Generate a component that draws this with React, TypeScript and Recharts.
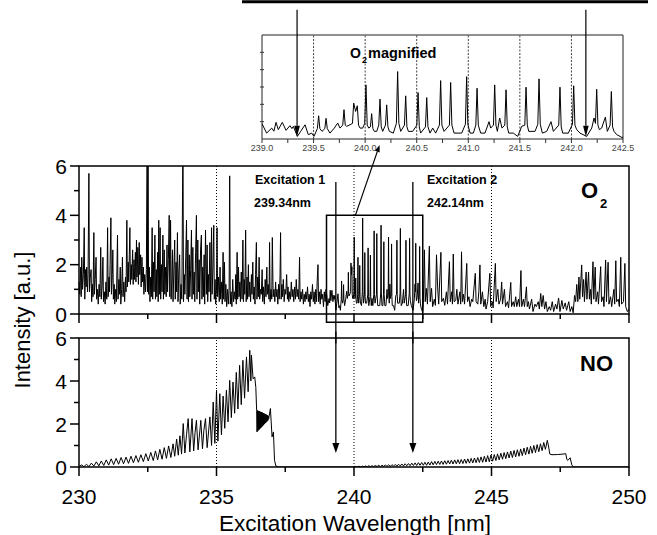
import React from 'react';
import { LineChart, Line, XAxis, YAxis, ReferenceLine, ReferenceArea } from 'recharts';

// O2 LIF excitation spectrum, 230-239 nm (wavelength nm, intensity a.u.)
const o2BandA: [number, number][] = [
  [230.00, 1.3], [230.03, 0.8], [230.06, 1.9], [230.08, 0.7], [230.10, 2.3], [230.13, 1.0], [230.16, 1.6], [230.19, 3.5],
  [230.21, 0.6], [230.24, 1.8], [230.26, 1.1], [230.28, 1.9], [230.31, 0.9], [230.33, 1.6], [230.36, 5.7], [230.38, 0.9],
  [230.41, 1.5], [230.44, 1.8], [230.46, 0.5], [230.49, 1.2], [230.51, 0.7], [230.54, 3.3], [230.56, 0.8], [230.59, 1.4],
  [230.62, 2.3], [230.64, 0.6], [230.67, 1.0], [230.70, 0.4], [230.73, 1.2], [230.76, 0.7], [230.79, 2.7], [230.81, 0.6],
  [230.84, 1.1], [230.87, 2.3], [230.89, 0.5], [230.92, 0.9], [230.95, 0.4], [230.98, 1.3], [231.01, 0.6], [231.04, 3.5],
  [231.06, 0.7], [231.09, 1.5], [231.11, 0.9], [231.13, 2.0], [231.16, 3.9], [231.18, 0.8], [231.21, 1.6], [231.23, 2.6],
  [231.25, 0.6], [231.28, 1.2], [231.30, 0.4], [231.33, 1.0], [231.36, 0.5], [231.40, 3.2], [231.42, 0.6], [231.45, 1.4],
  [231.47, 0.8], [231.50, 1.9], [231.52, 0.4], [231.55, 1.0], [231.58, 2.3], [231.60, 0.7], [231.63, 1.3], [231.66, 0.5],
  [231.69, 1.5], [231.71, 0.9], [231.74, 3.8], [231.76, 1.1], [231.79, 2.1], [231.81, 1.3], [231.83, 2.4], [231.85, 3.5],
  [231.87, 1.2], [231.90, 2.0], [231.92, 1.4], [231.95, 2.6], [231.97, 1.2], [232.00, 2.2], [232.02, 1.4], [232.05, 2.5],
  [232.07, 1.3], [232.09, 3.0], [232.11, 1.5], [232.14, 2.7], [232.16, 1.2], [232.19, 2.9], [232.21, 1.6], [232.24, 2.4],
  [232.26, 1.1], [232.29, 2.3], [232.31, 1.3], [232.34, 1.9], [232.36, 0.8], [232.39, 1.6], [232.42, 0.9], [232.45, 1.8],
  [232.48, 7.5], [232.49, 0.9], [232.51, 7.5], [232.53, 0.8], [232.56, 1.9], [232.58, 0.5], [232.61, 1.5], [232.63, 0.7],
  [232.66, 3.5], [232.68, 0.6], [232.71, 2.1], [232.73, 0.9], [232.76, 3.2], [232.78, 0.6], [232.81, 1.8], [232.83, 0.7],
  [232.86, 2.5], [232.88, 0.5], [232.90, 3.8], [232.92, 0.8], [232.95, 3.5], [232.97, 0.6], [233.00, 2.0], [233.02, 0.9],
  [233.05, 3.2], [233.07, 0.6], [233.10, 2.6], [233.12, 0.8], [233.15, 1.9], [233.17, 0.7], [233.20, 2.8], [233.22, 0.9],
  [233.25, 2.2], [233.28, 4.0], [233.30, 0.7], [233.33, 3.8], [233.35, 0.6], [233.38, 1.5], [233.40, 2.6], [233.42, 0.5],
  [233.45, 1.8], [233.48, 3.0], [233.50, 0.6], [233.53, 2.1], [233.55, 0.9], [233.58, 3.3], [233.60, 0.5], [233.63, 1.7],
  [233.66, 2.4], [233.68, 0.4], [233.71, 1.2], [233.74, 0.6], [233.78, 7.5], [233.80, 0.5], [233.83, 1.6], [233.85, 0.8],
  [233.88, 2.3], [233.91, 3.8], [233.93, 0.6], [233.96, 3.0], [233.98, 0.5], [234.01, 2.4], [234.03, 0.7], [234.06, 1.8],
  [234.09, 3.4], [234.11, 0.6], [234.14, 2.7], [234.16, 0.8], [234.19, 1.7], [234.21, 0.5], [234.24, 2.5], [234.27, 4.0],
  [234.29, 0.6], [234.32, 3.0], [234.34, 0.9], [234.37, 2.2], [234.39, 0.4], [234.42, 2.6], [234.45, 3.2], [234.47, 0.6],
  [234.50, 1.9], [234.52, 0.7], [234.55, 2.4], [234.57, 0.4], [234.60, 3.4], [234.63, 0.8], [234.66, 2.8], [234.68, 0.5],
  [234.71, 1.6], [234.73, 0.9], [234.76, 2.9], [234.79, 0.5], [234.82, 3.5], [234.84, 0.8], [234.87, 1.9], [234.90, 3.6],
  [234.92, 0.6], [234.95, 1.4], [234.97, 0.4],
];

const o2BandB: [number, number][] = [
  [235.00, 1.0], [235.02, 3.5], [235.04, 0.7], [235.07, 1.5], [235.10, 0.5], [235.13, 1.9], [235.15, 0.6], [235.18, 1.3],
  [235.21, 0.4], [235.24, 2.5], [235.26, 0.6], [235.29, 2.1], [235.31, 0.5], [235.34, 1.2], [235.37, 0.3], [235.40, 1.0],
  [235.43, 0.4], [235.46, 1.1], [235.48, 5.6], [235.50, 0.4], [235.53, 0.9], [235.56, 0.3], [235.59, 1.4], [235.62, 0.5],
  [235.65, 0.9], [235.68, 0.6], [235.70, 1.6], [235.72, 0.4], [235.75, 2.5], [235.77, 0.6], [235.80, 1.9], [235.82, 0.7],
  [235.85, 1.3], [235.87, 0.5], [235.90, 1.7], [235.93, 0.6], [235.96, 3.0], [235.98, 0.5], [236.01, 1.4], [236.03, 0.8],
  [236.06, 3.4], [236.08, 0.5], [236.11, 1.5], [236.13, 0.6], [236.16, 2.0], [236.18, 0.7], [236.21, 1.3], [236.24, 0.5],
  [236.27, 1.6], [236.29, 0.8], [236.32, 2.1], [236.34, 0.6], [236.37, 1.1], [236.40, 0.4], [236.42, 1.6], [236.45, 2.9],
  [236.47, 0.6], [236.50, 1.5], [236.52, 0.7], [236.55, 2.3], [236.57, 0.6], [236.60, 1.0], [236.63, 0.8], [236.66, 1.8],
  [236.68, 0.5], [236.71, 1.1], [236.74, 0.4], [236.77, 1.4], [236.80, 0.7], [236.83, 1.9], [236.85, 0.8], [236.88, 1.2],
  [236.91, 0.6], [236.93, 2.9], [236.95, 0.5], [236.98, 1.0], [237.01, 0.6], [237.03, 3.1], [237.06, 0.7], [237.09, 1.0],
  [237.12, 0.5], [237.15, 1.3], [237.17, 0.7], [237.20, 1.0], [237.23, 0.4], [237.26, 1.2], [237.28, 0.6], [237.31, 1.5],
  [237.33, 3.3], [237.35, 0.6], [237.38, 1.2], [237.40, 0.7], [237.43, 1.4], [237.46, 0.5], [237.49, 1.0], [237.52, 0.8],
  [237.55, 1.6], [237.58, 0.6], [237.60, 1.1], [237.63, 0.5], [237.66, 0.9], [237.69, 0.6], [237.72, 1.3], [237.75, 0.7],
  [237.78, 1.0], [237.81, 0.5], [237.84, 1.1], [237.87, 0.6], [237.90, 1.4], [237.93, 0.7], [237.96, 1.0], [237.99, 0.6],
  [238.02, 2.3], [238.04, 0.5], [238.07, 0.9], [238.10, 0.6], [238.13, 1.0], [238.16, 0.4], [238.19, 0.8], [238.22, 0.5],
  [238.25, 0.9], [238.28, 0.6], [238.31, 1.1], [238.34, 0.5], [238.37, 0.8], [238.40, 0.3], [238.43, 0.9], [238.46, 0.6],
  [238.49, 1.2], [238.52, 0.5], [238.55, 0.9], [238.58, 0.4], [238.61, 1.0], [238.64, 0.5], [238.66, 1.3], [238.69, 2.0],
  [238.71, 0.5], [238.74, 0.9], [238.77, 0.4], [238.80, 1.0], [238.83, 0.6], [238.86, 0.8], [238.89, 0.3], [238.92, 0.9],
  [238.95, 0.5], [238.98, 1.0],
];

// 239.0-242.5 nm, the stretch shown in the "O2 magnified" inset
const o2Magnified: [number, number][] = [
  [239.000, 0.88], [239.045, 0.34], [239.094, 0.63], [239.115, 0.45], [239.136, 0.96], [239.158, 0.54], [239.197, 0.96],
  [239.233, 0.50], [239.271, 0.77], [239.290, 0.60], [239.304, 0.73], [239.343, 0.15], [239.375, 0.44], [239.417, 0.82],
  [239.449, 0.25], [239.482, 0.34], [239.504, 0.15], [239.537, 0.6], [239.549, 1.34], [239.561, 0.6], [239.582, 0.44],
  [239.609, 0.6], [239.621, 1.19], [239.633, 0.6], [239.659, 0.34], [239.701, 0.63], [239.734, 0.92], [239.756, 0.63],
  [239.783, 0.8], [239.795, 1.69], [239.807, 0.8], [239.821, 0.73], [239.853, 0.82], [239.877, 0.9], [239.889, 2.07],
  [239.908, 1.59], [239.924, 1.92], [239.936, 0.8], [239.950, 0.63], [239.976, 0.63], [239.996, 0.9], [240.008, 3.12],
  [240.020, 0.8], [240.035, 0.63], [240.051, 0.7], [240.063, 1.46], [240.075, 0.6], [240.089, 0.44], [240.112, 0.44],
  [240.132, 0.8], [240.144, 2.30], [240.156, 0.7], [240.170, 0.44], [240.197, 0.8], [240.209, 1.97], [240.221, 0.7],
  [240.235, 0.44], [240.273, 0.34], [240.303, 0.9], [240.315, 3.89], [240.327, 0.9], [240.345, 0.44], [240.381, 0.8],
  [240.393, 2.49], [240.405, 0.7], [240.419, 0.44], [240.461, 0.44], [240.501, 0.8], [240.513, 2.68], [240.525, 0.7],
  [240.538, 0.34], [240.585, 0.7], [240.597, 2.39], [240.609, 0.7], [240.629, 0.34], [240.655, 0.63], [240.684, 0.34],
  [240.720, 0.8], [240.732, 3.37], [240.744, 0.8], [240.765, 0.44], [240.817, 0.8], [240.829, 3.26], [240.841, 0.8],
  [240.862, 0.34], [240.936, 0.34], [240.972, 0.85], [240.984, 3.60], [240.996, 0.85], [241.017, 0.34], [241.049, 0.34],
  [241.073, 0.8], [241.085, 2.93], [241.097, 0.8], [241.120, 0.34], [241.162, 0.34], [241.201, 1.00], [241.217, 0.63],
  [241.244, 0.8], [241.256, 3.12], [241.268, 0.8], [241.282, 0.44], [241.304, 1.21], [241.327, 0.63], [241.354, 0.8],
  [241.366, 2.84], [241.378, 0.7], [241.392, 0.34], [241.437, 0.34], [241.479, 0.15], [241.518, 0.73], [241.548, 0.8],
  [241.560, 2.99], [241.572, 0.8], [241.586, 0.44], [241.647, 0.44], [241.674, 0.85], [241.686, 3.47], [241.698, 0.85],
  [241.718, 0.34], [241.760, 0.44], [241.802, 1.00], [241.825, 0.44], [241.877, 0.8], [241.889, 2.99], [241.901, 0.7],
  [241.915, 0.34], [241.970, 0.34], [242.010, 0.85], [242.022, 3.07], [242.034, 0.8], [242.051, 0.54], [242.083, 0.34],
  [242.148, 0.15], [242.197, 0.63], [242.219, 1.21], [242.233, 0.9], [242.245, 2.87], [242.257, 0.8], [242.271, 0.54],
  [242.293, 0.63], [242.329, 1.26], [242.348, 0.44], [242.375, 0.8], [242.387, 2.74], [242.399, 0.7], [242.413, 0.44],
  [242.439, 0.25], [242.471, 0.15], [242.497, 0.06],
];

const o2BandC: [number, number][] = [
  [242.52, 0.4], [242.56, 2.6], [242.59, 0.5], [242.63, 1.04], [242.67, 0.4], [242.74, 2.75], [242.77, 0.5], [242.82, 1.04],
  [242.86, 0.3], [242.92, 0.6], [242.96, 0.35], [243.00, 2.4], [243.04, 1.1], [243.08, 0.4], [243.16, 2.5], [243.19, 0.5],
  [243.25, 0.64], [243.30, 0.35], [243.36, 0.9], [243.40, 0.4], [243.47, 2.12], [243.50, 0.5], [243.55, 0.9], [243.58, 0.4],
  [243.61, 2.43], [243.64, 0.5], [243.70, 0.55], [243.74, 1.0], [243.78, 0.4], [243.85, 0.9], [243.88, 0.4], [243.91, 2.52],
  [243.94, 0.5], [243.98, 0.8], [244.02, 0.4], [244.10, 2.05], [244.13, 0.5], [244.18, 0.7], [244.22, 0.3], [244.28, 0.6],
  [244.32, 0.5], [244.41, 1.65], [244.44, 0.5], [244.50, 0.4], [244.54, 0.9], [244.58, 1.99], [244.61, 0.4], [244.67, 0.9],
  [244.72, 0.3], [244.77, 0.6], [244.80, 0.2], [244.86, 0.5], [244.94, 1.65], [244.97, 0.3], [245.03, 0.5], [245.06, 0.25],
  [245.14, 2.05], [245.17, 0.5], [245.23, 1.0], [245.27, 0.4], [245.33, 0.6], [245.37, 1.3], [245.40, 0.4], [245.47, 1.0],
  [245.51, 0.3], [245.58, 0.5], [245.62, 0.25], [245.70, 1.28], [245.73, 0.3], [245.79, 0.5], [245.83, 0.3], [245.88, 0.7],
  [245.92, 0.3], [245.98, 0.6], [246.02, 0.3], [246.07, 1.76], [246.10, 0.3], [246.16, 0.6], [246.20, 0.3], [246.27, 1.1],
  [246.30, 0.3], [246.34, 0.5], [246.38, 0.2], [246.46, 0.6], [246.51, 0.1], [246.58, 0.4], [246.63, 0.3], [246.70, 0.5],
  [246.74, 0.2], [246.79, 0.83], [246.83, 0.3], [246.88, 0.75], [246.93, 0.2], [246.98, 0.5], [247.03, 0.1], [247.10, 0.3],
  [247.15, 0.15], [247.21, 0.5], [247.26, 0.1], [247.33, 0.4], [247.38, 0.2], [247.44, 0.65], [247.49, 0.1], [247.56, 0.55],
  [247.61, 0.2], [247.68, 0.45], [247.73, 0.15], [247.81, 0.5], [247.86, 0.1], [247.92, 0.3], [247.97, 0.05], [248.02, 0.75],
  [248.06, 0.5], [248.10, 1.2], [248.14, 0.5], [248.18, 1.5], [248.21, 0.6], [248.28, 1.99], [248.31, 0.7], [248.35, 1.4],
  [248.38, 0.5], [248.44, 1.7], [248.47, 0.6], [248.53, 1.7], [248.56, 0.6], [248.60, 1.0], [248.63, 0.4], [248.69, 2.12],
  [248.72, 0.6], [248.77, 1.9], [248.80, 0.5], [248.86, 0.9], [248.89, 0.4], [248.97, 1.92], [249.00, 0.5], [249.06, 0.7],
  [249.09, 0.3], [249.15, 2.19], [249.18, 0.5], [249.24, 2.1], [249.27, 0.4], [249.33, 0.7], [249.37, 0.3], [249.45, 1.0],
  [249.48, 0.4], [249.52, 2.16], [249.55, 0.5], [249.61, 0.6], [249.65, 0.3], [249.70, 2.3], [249.73, 0.4], [249.80, 0.5],
  [249.85, 2.05], [249.88, 0.3], [249.94, 0.1], [250.00, 0.2],
];

// NO excitation spectrum
const noSpectrum: [number, number][] = [
  [230.00, 0.02], [230.10, 0.10], [230.18, 0.01], [230.27, 0.13], [230.36, 0.02], [230.45, 0.18], [230.54, 0.04],
  [230.63, 0.24], [230.72, 0.05], [230.81, 0.28], [230.90, 0.07], [230.99, 0.33], [231.08, 0.09], [231.17, 0.38],
  [231.26, 0.11], [231.35, 0.40], [231.44, 0.13], [231.53, 0.44], [231.62, 0.15], [231.71, 0.46], [231.80, 0.17],
  [231.89, 0.50], [231.98, 0.20], [232.07, 0.53], [232.16, 0.22], [232.25, 0.57], [232.34, 0.25], [232.43, 0.62],
  [232.52, 0.28], [232.61, 0.68], [232.70, 0.30], [232.78, 0.75], [232.86, 0.33], [232.94, 0.82], [233.02, 0.36],
  [233.10, 0.90], [233.18, 0.40], [233.26, 0.98], [233.34, 0.44], [233.42, 1.08], [233.48, 0.50], [233.55, 1.30],
  [233.61, 0.55], [233.67, 1.45], [233.73, 0.60], [233.79, 2.02], [233.85, 0.65], [233.91, 1.50], [233.97, 2.25],
  [234.03, 0.70], [234.11, 2.25], [234.17, 0.75], [234.22, 1.60], [234.27, 2.17], [234.33, 0.80], [234.43, 2.17],
  [234.49, 0.85], [234.54, 1.70], [234.60, 2.25], [234.66, 0.90], [234.76, 2.33], [234.82, 1.00], [234.88, 3.02],
  [234.94, 1.10], [235.00, 3.57], [235.05, 1.20], [235.12, 3.41], [235.18, 1.50], [235.24, 3.30], [235.30, 1.80],
  [235.36, 3.57], [235.42, 2.10], [235.48, 4.03], [235.54, 2.30], [235.60, 3.95], [235.66, 2.50], [235.72, 4.40],
  [235.78, 2.70], [235.84, 4.73], [235.90, 2.90], [235.96, 4.96], [236.02, 3.20], [236.09, 5.12], [236.15, 3.50],
  [236.21, 5.43], [236.25, 4.00], [236.27, 5.20], [236.33, 4.10], [236.39, 4.19], [236.43, 3.70], [236.46, 2.62],
  [236.475, 1.63], [236.49, 2.63], [236.505, 1.68], [236.52, 2.61], [236.535, 1.72], [236.55, 2.60], [236.565, 1.76],
  [236.58, 2.58], [236.595, 1.80], [236.61, 2.56], [236.625, 1.84], [236.64, 2.55], [236.655, 1.88], [236.67, 2.53],
  [236.685, 1.92], [236.70, 2.51], [236.715, 1.96], [236.73, 2.49], [236.745, 2.00], [236.76, 2.47], [236.775, 2.04],
  [236.79, 2.45], [236.805, 2.08], [236.82, 2.43], [236.835, 2.12], [236.85, 2.41], [236.865, 2.16], [236.88, 2.38],
  [236.895, 2.22], [236.91, 2.34], [236.96, 2.72], [237.02, 1.40], [237.07, 1.63], [237.11, 0.31], [237.16, 0.05],
  [237.25, 0.00], [240.00, 0.00],
  [240.06, 0.03], [240.12, 0.00], [240.18, 0.04], [240.24, 0.00], [240.30, 0.04], [240.36, 0.01], [240.42, 0.05],
  [240.48, 0.01], [240.54, 0.06], [240.60, 0.01], [240.66, 0.06], [240.72, 0.02], [240.78, 0.07], [240.84, 0.02],
  [240.90, 0.08], [240.96, 0.02], [241.02, 0.08], [241.08, 0.03], [241.14, 0.09], [241.20, 0.03], [241.26, 0.10],
  [241.32, 0.03], [241.38, 0.11], [241.44, 0.04], [241.50, 0.12], [241.56, 0.04], [241.62, 0.13], [241.68, 0.05],
  [241.74, 0.14], [241.80, 0.05], [241.86, 0.15], [241.92, 0.06], [241.98, 0.16], [242.04, 0.06], [242.10, 0.18],
  [242.16, 0.07], [242.22, 0.19], [242.28, 0.07], [242.34, 0.20], [242.40, 0.08], [242.46, 0.21], [242.52, 0.08],
  [242.58, 0.22], [242.64, 0.08], [242.70, 0.23], [242.76, 0.09], [242.82, 0.25], [242.88, 0.10], [242.94, 0.26],
  [243.00, 0.11], [243.06, 0.27], [243.12, 0.12], [243.18, 0.28], [243.24, 0.12], [243.30, 0.29], [243.36, 0.13],
  [243.42, 0.30], [243.48, 0.14], [243.54, 0.32], [243.60, 0.14], [243.66, 0.33], [243.72, 0.15], [243.78, 0.34],
  [243.84, 0.15], [243.90, 0.35], [243.96, 0.16], [244.02, 0.37], [244.08, 0.17], [244.14, 0.38], [244.20, 0.18],
  [244.26, 0.40], [244.32, 0.19], [244.38, 0.42], [244.44, 0.20], [244.50, 0.44], [244.56, 0.21], [244.62, 0.47],
  [244.68, 0.22], [244.74, 0.50], [244.80, 0.23], [244.86, 0.53], [244.92, 0.24], [244.98, 0.56], [245.04, 0.27],
  [245.10, 0.58], [245.16, 0.30], [245.22, 0.61], [245.28, 0.33], [245.34, 0.64], [245.40, 0.36], [245.46, 0.67],
  [245.52, 0.39], [245.58, 0.70], [245.64, 0.42], [245.70, 0.74], [245.76, 0.44], [245.82, 0.77], [245.88, 0.47],
  [245.94, 0.80], [246.00, 0.50], [246.06, 0.84], [246.12, 0.53], [246.18, 0.88], [246.24, 0.57], [246.30, 0.92],
  [246.36, 0.60], [246.42, 0.96], [246.48, 0.64], [246.54, 1.00], [246.60, 0.67], [246.66, 1.04], [246.72, 0.71],
  [246.78, 1.08], [246.84, 0.76], [246.90, 1.14], [246.96, 0.82], [247.03, 1.24], [247.08, 0.93], [247.12, 0.60],
  [247.20, 0.57], [247.40, 0.58], [247.60, 0.60], [247.70, 0.62], [247.74, 0.35], [247.78, 0.31], [247.86, 0.43],
  [247.92, 0.10], [247.98, 0.00], [250.00, 0.00],
];

const excitationLines = [239.34, 242.14];
const mainTicks = [230, 232.5, 235, 237.5, 240, 242.5, 245, 247.5, 250];
const mainGrid = [235, 240, 245];
const intensityTicks = [0, 1, 2, 3, 4, 5, 6];
const insetTicks = [239, 239.25, 239.5, 239.75, 240, 240.25, 240.5, 240.75, 241, 241.25, 241.5, 241.75, 242, 242.25, 242.5];
const insetGrid = [239.5, 240, 240.5, 241, 241.5, 242];

const o2Data = [...o2BandA, ...o2BandB, ...o2Magnified, ...o2BandC].map(([wl, v]) => ({ wl, v }));
const noData = noSpectrum.map(([wl, v]) => ({ wl, v }));

const W = 657;
const H = 535;
const FONT = 'Arial, "Liberation Sans", Helvetica, sans-serif';
const PLOT_L = 79;
const PLOT_R = 629;
const O2_TOP = 166;
const O2_BOT = 314;
const NO_TOP = 338;
const NO_BOT = 467;
const IN_L = 262;
const IN_R = 623;
const IN_TOP = 35;
const IN_BOT = 139;

const bottomTick = (axisY: number, labels: boolean) => (p: any) => {
  const v = p.payload.value;
  const major = Math.abs(v / 5 - Math.round(v / 5)) < 1e-6;
  return (
    <g>
      <line x1={p.x} x2={p.x} y1={axisY} y2={axisY + (major ? 9 : 5)} stroke="#000" strokeWidth={1.5} />
      {labels && major && (
        <text x={p.x} y={axisY + 37} textAnchor="middle" fontSize={21} fontFamily={FONT} fill="#000">
          {v}
        </text>
      )}
    </g>
  );
};

const leftTick = (p: any) => {
  const v = p.payload.value;
  const major = v % 2 === 0;
  return (
    <g>
      <line x1={PLOT_L - (major ? 9 : 5)} x2={PLOT_L} y1={p.y} y2={p.y} stroke="#000" strokeWidth={1.5} />
      {major && (
        <text x={PLOT_L - 12} y={p.y} dy="0.36em" textAnchor="end" fontSize={21} fontFamily={FONT} fill="#000">
          {v}
        </text>
      )}
    </g>
  );
};

const insetBottomTick = (p: any) => {
  const v = p.payload.value;
  const major = Math.abs(v * 2 - Math.round(v * 2)) < 1e-6;
  return (
    <g>
      <line x1={p.x} x2={p.x} y1={IN_BOT} y2={IN_BOT + 4} stroke="#333" strokeWidth={1} />
      {major && (
        <text x={p.x} y={IN_BOT + 12} textAnchor="middle" fontSize={9} fontFamily={FONT} fill="#444">
          {v.toFixed(1)}
        </text>
      )}
    </g>
  );
};

const insetLeftTick = (p: any) => (
  <line x1={IN_L - 2} x2={IN_L + 2} y1={p.y} y2={p.y} stroke="#333" strokeWidth={1} />
);

// line with a filled arrowhead at its (x2, y2) end
const arrow = (len: number, half: number, width: number) => (p: any) => {
  const { x1, y1, x2, y2 } = p;
  const a = Math.atan2(y2 - y1, x2 - x1);
  const bx = x2 - Math.cos(a) * len;
  const by = y2 - Math.sin(a) * len;
  const nx = -Math.sin(a) * half;
  const ny = Math.cos(a) * half;
  return (
    <g>
      <line x1={x1} y1={y1} x2={bx} y2={by} stroke="#000" strokeWidth={width} />
      <polygon points={`${x2},${y2} ${bx + nx},${by + ny} ${bx - nx},${by - ny}`} fill="#000" />
    </g>
  );
};

const plainLine = (width: number) => (p: any) => (
  <line x1={p.x1} y1={p.y1} x2={p.x2} y2={p.y2} stroke="#000" strokeWidth={width} />
);

const layer: React.CSSProperties = { position: 'absolute', left: 0, top: 0 };

export default function App() {
  return (
    <div style={{ position: 'absolute', left: 0, top: 0, width: W, height: H, background: '#fff' }}>
      {/* NO panel */}
      <div style={layer}>
        <LineChart width={W} height={H} margin={{ top: NO_TOP, right: W - PLOT_R, left: PLOT_L - 40, bottom: H - NO_BOT - 40 }}>
          <XAxis
            dataKey="wl"
            type="number"
            domain={[230, 250]}
            ticks={mainTicks}
            interval={0}
            height={40}
            axisLine={false}
            tickLine={false}
            tick={bottomTick(NO_BOT, true)}
          />
          <YAxis
            type="number"
            domain={[0, 6]}
            ticks={intensityTicks}
            interval={0}
            width={40}
            axisLine={false}
            tickLine={false}
            tick={leftTick}
            allowDataOverflow
          />
          {mainGrid.map((x) => (
            <ReferenceLine key={x} x={x} stroke="#000" strokeWidth={1} strokeDasharray="1 2" />
          ))}
          <Line data={noData} dataKey="v" stroke="#000" strokeWidth={1} dot={false} isAnimationActive={false} />
          <ReferenceArea x1={230} x2={250} y1={0} y2={6} fill="none" stroke="#000" strokeWidth={1.5} ifOverflow="visible" />
          {excitationLines.map((x) => (
            <ReferenceLine
              key={x}
              segment={[{ x, y: 6.3 }, { x, y: 0.65 }]}
              ifOverflow="visible"
              shape={arrow(10, 3.5, 1.3)}
            />
          ))}
        </LineChart>
      </div>

      {/* O2 panel */}
      <div style={layer}>
        <LineChart width={W} height={H} margin={{ top: O2_TOP, right: W - PLOT_R, left: PLOT_L - 40, bottom: H - O2_BOT - 40 }}>
          <XAxis
            dataKey="wl"
            type="number"
            domain={[230, 250]}
            ticks={mainTicks}
            interval={0}
            height={40}
            axisLine={false}
            tickLine={false}
            tick={bottomTick(O2_BOT, false)}
          />
          <YAxis
            type="number"
            domain={[0, 6]}
            ticks={intensityTicks}
            interval={0}
            width={40}
            axisLine={false}
            tickLine={false}
            tick={leftTick}
            allowDataOverflow
          />
          {mainGrid.map((x) => (
            <ReferenceLine key={x} x={x} stroke="#000" strokeWidth={1} strokeDasharray="1 2" />
          ))}
          <Line data={o2Data} dataKey="v" stroke="#000" strokeWidth={1} dot={false} isAnimationActive={false} />
          <ReferenceArea x1={230} x2={250} y1={0} y2={6} fill="none" stroke="#000" strokeWidth={1.5} ifOverflow="visible" />
          <ReferenceArea x1={239} x2={242.5} y1={-0.33} y2={4} fill="none" stroke="#000" strokeWidth={1.5} ifOverflow="visible" />
          {excitationLines.map((x) => (
            <ReferenceLine key={x} segment={[{ x, y: 5.35 }, { x, y: -1.2 }]} ifOverflow="visible" shape={plainLine(1.3)} />
          ))}
          <ReferenceLine
            segment={[{ x: 240.05, y: 4.0 }, { x: 240.93, y: 6.85 }]}
            ifOverflow="visible"
            shape={arrow(7, 2.5, 1.2)}
          />
        </LineChart>
      </div>

      {/* inset */}
      <div style={layer}>
        <LineChart width={W} height={H} margin={{ top: IN_TOP, right: W - IN_R, left: IN_L - 10, bottom: H - IN_BOT - 20 }}>
          <XAxis
            dataKey="wl"
            type="number"
            domain={[239, 242.5]}
            ticks={insetTicks}
            interval={0}
            height={20}
            axisLine={false}
            tickLine={false}
            tick={insetBottomTick}
            allowDataOverflow
          />
          <YAxis
            type="number"
            domain={[0, 6]}
            ticks={[1, 2, 3, 4, 5]}
            interval={0}
            width={10}
            axisLine={false}
            tickLine={false}
            tick={insetLeftTick}
            allowDataOverflow
          />
          {insetGrid.map((x) => (
            <ReferenceLine key={x} x={x} stroke="#444" strokeWidth={1} strokeDasharray="2 1.5" />
          ))}
          <Line data={o2Data} dataKey="v" stroke="#000" strokeWidth={1} dot={false} isAnimationActive={false} />
          <ReferenceArea x1={239} x2={242.5} y1={0} y2={6} fill="none" stroke="#222" strokeWidth={1} ifOverflow="visible" />
          {excitationLines.map((x) => (
            <ReferenceLine
              key={x}
              segment={[{ x, y: 7.45 }, { x, y: 0.13 }]}
              ifOverflow="visible"
              shape={arrow(11, 2.8, 1.2)}
            />
          ))}
        </LineChart>
      </div>

      {/* texts */}
      <svg width={W} height={H} style={{ ...layer, pointerEvents: 'none' }} fontFamily={FONT}>
        <line x1={242} x2={648} y1={1.7} y2={1.7} stroke="#000" strokeWidth={3} />
        <text x={350} y={58} fontSize={14} fontWeight="bold">O</text>
        <text x={362} y={63} fontSize={9} fontWeight="bold">2</text>
        <text x={368} y={58} fontSize={14.5} fontWeight="bold">magnified</text>

        <text x={255} y={184} fontSize={12.5} fontWeight="bold">Excitation 1</text>
        <text x={254} y={207} fontSize={12.5} fontWeight="bold">239.34nm</text>
        <text x={427} y={184} fontSize={12.5} fontWeight="bold">Excitation 2</text>
        <text x={427} y={207} fontSize={12.5} fontWeight="bold">242.14nm</text>

        <text x={581} y={198} fontSize={22} fontWeight="bold">O</text>
        <text x={600} y={208} fontSize={13} fontWeight="bold">2</text>
        <text x={580} y={371} fontSize={22} fontWeight="bold">NO</text>

        <text x={22} y={320} fontSize={22} textAnchor="middle" transform="rotate(-90 22 320)" dy="0.36em">
          Intensity [a.u.]
        </text>
        <text x={355} y={531} fontSize={22.5} textAnchor="middle">
          Excitation Wavelength [nm]
        </text>
      </svg>
    </div>
  );
}
